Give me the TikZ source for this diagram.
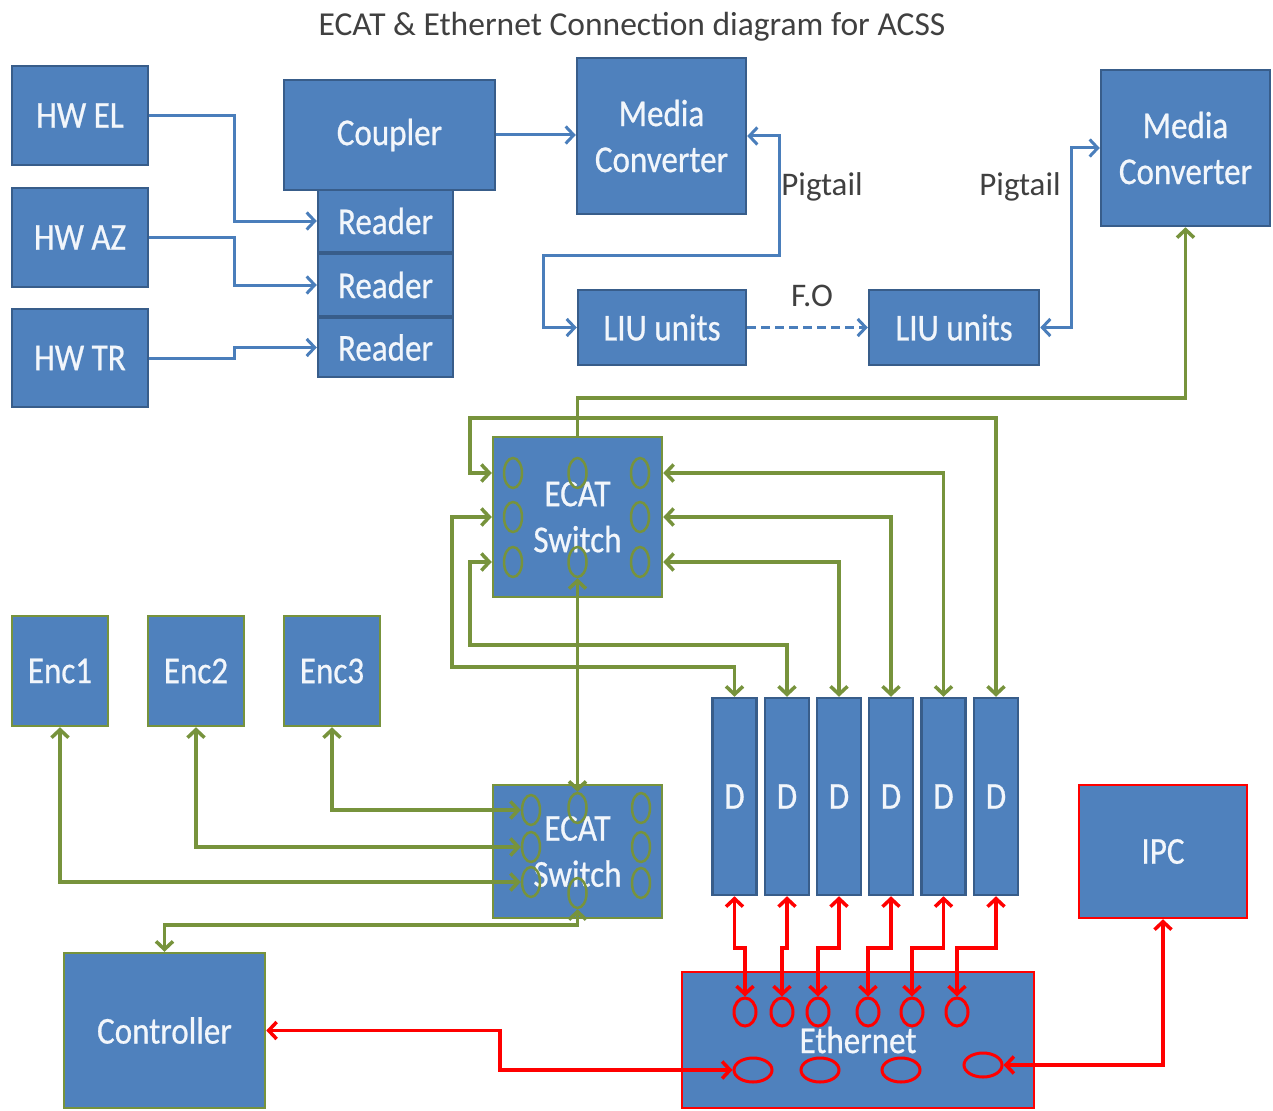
\documentclass[tikz,border=0pt]{standalone}
\usepackage{fontspec}
\setmainfont{Carlito}
\newfontfamily\boxfont[FakeStretch=0.87,FakeBold=0.6]{Carlito}
\usetikzlibrary{arrows.meta,shapes.geometric,calc}
\definecolor{bfill}{HTML}{4F81BD}
\definecolor{bbord}{HTML}{385D8A}
\definecolor{gcol}{HTML}{77933C}
\definecolor{bline}{HTML}{4A7EBB}
\definecolor{ttext}{HTML}{404040}
\definecolor{boxtext}{HTML}{F2F6FB}
\definecolor{rcol}{HTML}{FF0000}
\begin{document}
\begin{tikzpicture}[x=1pt,y=-1pt,
 box/.style={draw=bbord, fill=bfill, line width=2.5pt, inner sep=0pt, text=boxtext, font=\boxfont\fontsize{38}{46}\selectfont, align=center},
 gbox/.style={box, draw=gcol},
 rbox/.style={box, draw=rcol},
 gport/.style={ellipse, draw=gcol, line width=2.5pt, minimum width=18pt, minimum height=30pt, inner sep=0pt},
 rport/.style={ellipse, draw=rcol, line width=3pt, minimum width=22pt, minimum height=28pt, inner sep=0pt},
 bigport/.style={rport, minimum width=38pt, minimum height=24pt},
 onearrow/.style={-{Straight Barb[length=8pt,width=17pt]}},
 twoarrow/.style={{Straight Barb[length=8pt,width=17pt]}-{Straight Barb[length=8pt,width=17pt]}},
 bl/.style={draw=bline, line width=3pt},
 gr/.style={draw=gcol, line width=3.5pt},
 rd/.style={draw=rcol, line width=3.5pt},
 lbl/.style={text=ttext, font=\fontsize{33}{36}\selectfont, inner sep=0pt}
]
\fill[white] (0,0) rectangle (1273,1110);
\useasboundingbox (0,0) rectangle (1273,1110);

% title
\node[lbl, font=\fontsize{33.5}{36}\selectfont] (title) at (632,27) {ECAT \& Ethernet Connection diagram for ACSS};

% top section
\node[box, minimum width=136pt, minimum height=99pt] (hwel) at (80,115.5) {HW EL};
\node[box, minimum width=136pt, minimum height=99pt] (hwaz) at (80,237.5) {HW AZ};
\node[box, minimum width=136pt, minimum height=98pt] (hwtr) at (80,358) {HW TR};
\node[box, minimum width=211pt, minimum height=110pt] (coupler) at (389.5,135) {Coupler};
\node[box, minimum width=135pt, minimum height=62pt] (reader1) at (385.5,221) {Reader};
\node[box, minimum width=135pt, minimum height=62pt] (reader2) at (385.5,285) {Reader};
\node[box, minimum width=135pt, minimum height=59pt] (reader3) at (385.5,347.5) {Reader};
\node[box, minimum width=169pt, minimum height=156pt] (mc1) at (661.5,136) {Media\\Converter};
\node[box, minimum width=169pt, minimum height=156pt] (mc2) at (1185.5,148) {Media\\Converter};
\node[box, minimum width=168pt, minimum height=75pt] (liu1) at (662,327.5) {LIU units};
\node[box, minimum width=170pt, minimum height=75pt] (liu2) at (954,327.5) {LIU units};

\node[lbl] (pig1) at (822,187) {Pigtail};
\node[lbl] (pig2) at (1020,187) {Pigtail};
\node[lbl] (fo) at (812,296) {F.O};

% switches and devices
\node[gbox, minimum width=169pt, minimum height=160pt] (sw1) at (577.5,517) {ECAT\\Switch};
\node[gbox, minimum width=169pt, minimum height=133pt] (sw2) at (577.5,851.5) {ECAT\\Switch};
\node[gbox, minimum width=96pt, minimum height=110pt] (enc1) at (60,671) {Enc1};
\node[gbox, minimum width=96pt, minimum height=110pt] (enc2) at (196,671) {Enc2};
\node[gbox, minimum width=96pt, minimum height=110pt] (enc3) at (332,671) {Enc3};
\foreach \i/\x in {1/734.5,2/787,3/839,4/891,5/943.5,6/996}
  \node[box, minimum width=44pt, minimum height=197pt] (d\i) at (\x,796.5) {D};
\node[rbox, minimum width=168pt, minimum height=133pt] (ipc) at (1163,851.5) {IPC};
\node[gbox, minimum width=201pt, minimum height=155pt] (ctrl) at (164.5,1030.5) {Controller};
\node[rbox, minimum width=352pt, minimum height=136pt] (eth) at (858,1040) {Ethernet};

% switch ports
\node[gport] (sw1L1) at (513,473) {};
\node[gport] (sw1L2) at (513,517) {};
\node[gport] (sw1L3) at (513,562) {};
\node[gport] (sw1C1) at (577.5,473) {};
\node[gport] (sw1C2) at (577.5,562) {};
\node[gport] (sw1R1) at (640,473) {};
\node[gport] (sw1R2) at (640,517) {};
\node[gport] (sw1R3) at (640,562) {};
\node[gport] (sw2L1) at (531,810) {};
\node[gport] (sw2L2) at (531,847) {};
\node[gport] (sw2L3) at (531,882) {};
\node[gport] (sw2C1) at (577.5,808) {};
\node[gport] (sw2C2) at (577.5,893) {};
\node[gport] (sw2R1) at (641,808) {};
\node[gport] (sw2R2) at (641,847) {};
\node[gport] (sw2R3) at (641,883) {};

% ethernet ports
\foreach \i/\x in {1/745,2/782,3/818,4/868,5/912,6/957}
  \node[rport] (e\i) at (\x,1012) {};
\node[bigport] (E1) at (753,1070) {};
\node[bigport] (E2) at (820,1070) {};
\node[bigport] (E3) at (901,1070) {};
\node[bigport] (E4) at (983,1065) {};

% blue connectors
\draw[bl,onearrow] (hwel.east) -- ++(85,0) |- (reader1.west);
\draw[bl,onearrow] (hwaz.east) -- ++(85,0) |- (reader2.west);
\draw[bl,onearrow] (hwtr.east) -- ++(85,0) |- (reader3.west);
\draw[bl,onearrow] (coupler.east) -- (coupler.east -| mc1.west);
\coordinate (p1) at (779,255);
\coordinate (p2) at (543,255);
\draw[bl,twoarrow] (mc1.east) -| (p1) -- (p2) |- (liu1.west);
\draw[bl,onearrow,dashed,dash pattern=on 9pt off 5pt] (liu1.east) -- (liu2.west);
\coordinate (p3) at (1071,148);
\draw[bl,twoarrow] (liu2.east) -| (p3) -- (mc2.west);

% green connectors
\coordinate (g1) at (577.5,398);
\draw[gr,onearrow] (sw1.north) -- (g1) -| (mc2.south);
\coordinate (a1) at (470,418);
\draw[gr,twoarrow] (sw1.west |- sw1L1) -| (a1) -| (d6.north);
\coordinate (a3) at (452,667);
\draw[gr,twoarrow] (sw1.west |- sw1L2) -| (a3) -| (d1.north);
\coordinate (a4) at (470,645);
\draw[gr,twoarrow] (sw1.west |- sw1L3) -| (a4) -| (d2.north);
\draw[gr,twoarrow] (sw1.east |- sw1R1) -| (d5.north);
\draw[gr,twoarrow] (sw1.east |- sw1R2) -| (d4.north);
\draw[gr,twoarrow] (sw1.east |- sw1R3) -| (d3.north);
\draw[gr,twoarrow] (sw1C2.south) -- (sw2C1.north);
\coordinate (b1) at (577.5,925);
\draw[gr,twoarrow] (sw2C2.south) -- (b1) -| (ctrl.north);
\draw[gr,twoarrow] (sw2L1.west) -| (enc3.south);
\draw[gr,twoarrow] (sw2L2.west) -| (enc2.south);
\draw[gr,twoarrow] (sw2L3.west) -| (enc1.south);

% red connectors
\coordinate (jog) at (0,948);
\foreach \i in {1,...,6}
  \draw[rd,twoarrow] (d\i.south) -- (d\i.south |- jog) -| (e\i.north);
\coordinate (c1) at (500,1033);
\draw[rd,twoarrow] (ctrl.east) -- (ctrl.east -| c1) |- (E1.west);
\draw[rd,twoarrow] (ipc.south) |- (E4.east);
\end{tikzpicture}
\end{document}
